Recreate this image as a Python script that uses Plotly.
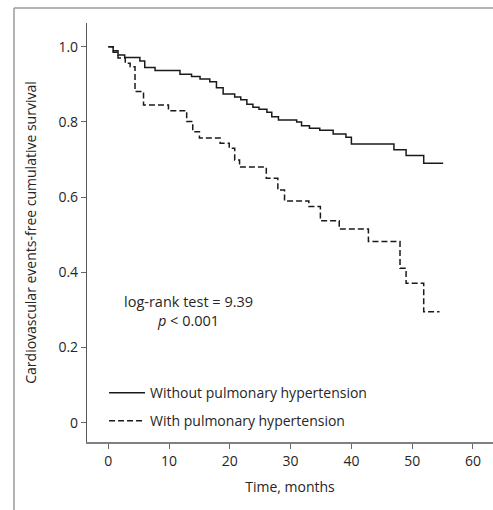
import plotly.graph_objects as go

# Without pulmonary hypertension (Kaplan-Meier steps)
t_without = [0, 0.8, 1.6, 2.7, 5.2, 6.0, 7.7, 11.8, 13.7, 15.1, 16.7, 17.8, 18.9, 20.8, 21.8,
             22.8, 23.8, 24.8, 26.1, 26.9, 28.0, 31.0, 31.8, 33.1, 34.8, 37.0, 39.1, 40.0,
             47.0, 49.0, 51.9, 55.1]
s_without = [1.0, 0.989, 0.978, 0.971, 0.962, 0.945, 0.937, 0.927, 0.921, 0.914, 0.907, 0.891,
             0.874, 0.866, 0.859, 0.847, 0.839, 0.834, 0.826, 0.814, 0.805, 0.800, 0.790, 0.783,
             0.778, 0.768, 0.759, 0.741, 0.726, 0.711, 0.690, 0.690]

# With pulmonary hypertension
t_with = [0, 0.8, 1.6, 2.8, 3.6, 4.4, 5.8, 9.9, 12.9, 13.9, 15.0, 18.4, 19.9, 20.8, 21.6,
          26.0, 27.9, 29.0, 33.0, 34.9, 38.0, 42.8, 48.0, 49.0, 51.9, 54.5]
s_with = [1.0, 0.985, 0.970, 0.956, 0.947, 0.881, 0.845, 0.830, 0.801, 0.774, 0.757, 0.743,
          0.730, 0.699, 0.680, 0.650, 0.619, 0.590, 0.575, 0.537, 0.515, 0.482, 0.411, 0.371,
          0.295, 0.295]

x_ticks = [0, 10, 20, 30, 40, 50, 60]
y_ticks = [0, 0.2, 0.4, 0.6, 0.8, 1.0]
y_tick_labels = ["0", "0.2", "0.4", "0.6", "0.8", "1.0"]

FONT = "Open Sans"
TXT = "#262626"
FS = 14

fig = go.Figure()
fig.add_trace(go.Scatter(x=t_without, y=s_without, mode="lines", line_shape="hv",
                         line=dict(color="#1a1a1a", width=1.5),
                         name="Without pulmonary hypertension", legendgroup="a"))
fig.add_trace(go.Scatter(x=t_with, y=s_with, mode="lines", line_shape="hv",
                         line=dict(color="#1a1a1a", width=1.5, dash="6px,3px"),
                         name="With pulmonary hypertension", legendgroup="b"))

fig.add_annotation(x=13.2, y=0.297, xref="x", yref="y",
                   text="log-rank test = 9.39<br><i>p</i> < 0.001", align="center",
                   showarrow=False, font=dict(family=FONT, size=14.5, color=TXT))

# outer frame (left and top grey lines)
fig.add_shape(type="line", xref="paper", yref="paper", x0=-0.1798, x1=-0.1798, y0=1.0358, y1=-0.17,
              line=dict(color="#9a9a9a", width=1.5))
fig.add_shape(type="line", xref="paper", yref="paper", x0=-0.1798, x1=1.01, y0=1.0358, y1=1.0358,
              line=dict(color="#9a9a9a", width=1.5))

fig.update_layout(
    width=493, height=510,
    margin=dict(l=87, r=0, t=23, b=68),
    paper_bgcolor="white", plot_bgcolor="white",
    font=dict(family=FONT, size=FS, color=TXT),
    showlegend=True,
    legend=dict(x=0.042, y=0.155, xanchor="left", yanchor="top", itemwidth=36,
                bgcolor="rgba(0,0,0,0)", font=dict(family=FONT, size=FS, color=TXT),
                traceorder="grouped", tracegroupgap=7),
    xaxis=dict(range=[-3.5, 63.3], tickvals=x_ticks, ticks="outside", ticklen=5,
               tickcolor="#666", showline=True, linecolor="#808080", linewidth=1.5,
               showgrid=False, zeroline=False,
               title=dict(text="Time, months", standoff=14, font=dict(size=FS)),
               tickfont=dict(size=FS)),
    yaxis=dict(range=[-0.051, 1.063], tickvals=y_ticks, ticktext=y_tick_labels,
               ticks="outside", ticklen=5, tickcolor="#666", showline=True,
               linecolor="#555", linewidth=1.2, showgrid=False, zeroline=False,
               title=dict(text="Cardiovascular events-free cumulative survival", standoff=18,
                          font=dict(size=FS)),
               tickfont=dict(size=FS)),
)

fig.write_html("out.html")
